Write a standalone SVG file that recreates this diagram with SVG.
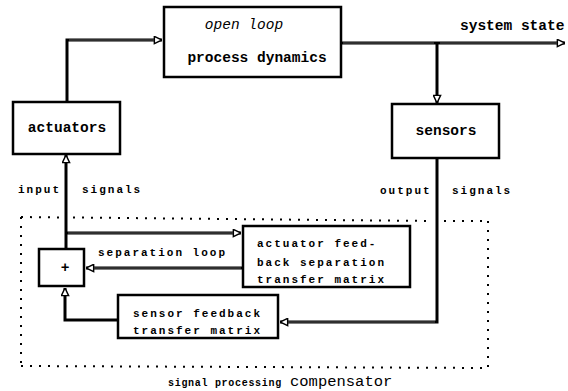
<svg xmlns="http://www.w3.org/2000/svg" width="568" height="391" viewBox="0 0 568 391">
  <style>
    .box { fill: #fff; stroke: #000; stroke-width: 2.5; }
    .big { font-family: "Liberation Mono", "DejaVu Sans Mono", monospace; font-weight: bold; font-size: 14.5px; fill: #000; }
    .ital { font-family: "Liberation Mono", "DejaVu Sans Mono", monospace; font-style: italic; font-size: 14.5px; fill: #000; }
    .small { font-family: "Liberation Mono", "DejaVu Sans Mono", monospace; font-weight: bold; font-size: 11px; letter-spacing: 2px; fill: #000; }
    .tiny { font-family: "Liberation Mono", "DejaVu Sans Mono", monospace; font-weight: bold; font-size: 10px; letter-spacing: 0.7px; fill: #000; }
    .reg { font-family: "Liberation Mono", "DejaVu Sans Mono", monospace; font-size: 15.5px; fill: #000; }
    .wire { fill: none; stroke: #000; stroke-width: 3; }
    .core { fill: none; stroke: #777; stroke-width: 0.8; }
    .dots { fill: none; stroke: #000; stroke-width: 2; stroke-dasharray: 2 7; }
  </style>
  <defs>
    <marker id="head" viewBox="0 0 10 10" refX="9.5" refY="5" markerWidth="9" markerHeight="9" markerUnits="userSpaceOnUse" orient="auto">
      <path d="M1,1 L9.5,5 L1,9 Z" fill="#fff" stroke="#000" stroke-width="1.6"/>
    </marker>
  </defs>
  <rect width="568" height="391" fill="#fff"/>

  <!-- dotted compensator boundary -->
  <g id="compensator">
    <line class="dots" x1="21" y1="217" x2="60" y2="217.5"/>
    <line class="dots" x1="73" y1="217.5" x2="430" y2="221"/>
    <line class="dots" x1="444" y1="221" x2="488" y2="221"/>
    <line class="dots" x1="488" y1="221" x2="488" y2="369"/>
    <line class="dots" x1="21" y1="217" x2="21" y2="366"/>
    <line class="dots" x1="21" y1="366" x2="488" y2="368"/>
    <text class="tiny" x="168" y="386">signal processing</text>
    <text class="reg" x="290" y="386">compensator</text>
  </g>

  <!-- connectors -->
  <g id="connectors">
    <path class="wire" d="M67,102 V40 H162" marker-end="url(#head)"/>
    <path class="core" d="M69,40 H154"/>
    <path class="wire" d="M341,43 H565" marker-end="url(#head)"/>
    <path class="core" d="M343,43 H434 M440,43 H557"/>
    <path class="wire" d="M437,43 V103" marker-end="url(#head)"/>
    <path class="wire" d="M66,249 V155" marker-end="url(#head)"/>
    <path class="wire" d="M66,233 H241" marker-end="url(#head)"/>
    <path class="core" d="M68,233 H233"/>
    <path class="wire" d="M243,268 H86" marker-end="url(#head)"/>
    <path class="core" d="M241,268 H94"/>
    <path class="wire" d="M437,158 V322 H280" marker-end="url(#head)"/>
    <path class="core" d="M435,322 H288"/>
    <path class="wire" d="M118,320 H65 V288" marker-end="url(#head)"/>
  </g>

  <g id="open-loop">
    <rect class="box" x="164" y="7" width="177" height="70"/>
    <text class="ital" x="244" y="29" text-anchor="middle">open loop</text>
    <text class="big" x="257" y="62" text-anchor="middle">process dynamics</text>
  </g>

  <text class="big" x="460" y="30" font-size="14">system state</text>

  <g id="actuators">
    <rect class="box" x="13" y="102" width="107" height="52"/>
    <text class="big" x="67" y="132" text-anchor="middle">actuators</text>
  </g>

  <g id="sensors">
    <rect class="box" x="392" y="104" width="107" height="54"/>
    <text class="big" x="446" y="135" text-anchor="middle">sensors</text>
  </g>

  <g id="signal-labels">
    <text class="small" x="18" y="193">input</text>
    <text class="small" x="82" y="193">signals</text>
    <text class="small" x="380" y="194">output</text>
    <text class="small" x="452" y="194">signals</text>
    <text class="small" x="98" y="256">separation loop</text>
  </g>

  <g id="summing">
    <rect class="box" x="39" y="249" width="45" height="37"/>
    <text class="big" x="65" y="272" font-size="11" text-anchor="middle">+</text>
  </g>

  <g id="actuator-feedback">
    <rect class="box" x="243" y="226" width="167" height="61"/>
    <text class="small" x="257" y="247">actuator feed-</text>
    <text class="small" x="257" y="266">back separation</text>
    <text class="small" x="257" y="283">transfer matrix</text>
  </g>

  <g id="sensor-feedback">
    <rect class="box" x="118" y="295" width="160" height="43"/>
    <text class="small" x="133" y="317">sensor feedback</text>
    <text class="small" x="133" y="334">transfer matrix</text>
  </g>
</svg>
